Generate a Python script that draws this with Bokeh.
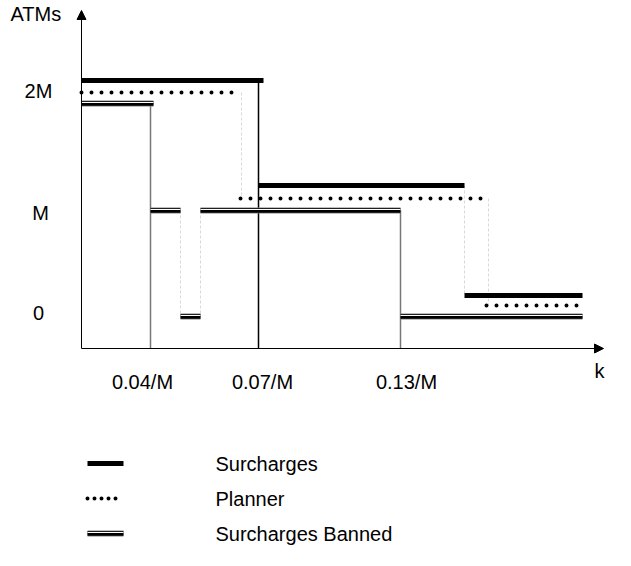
from bokeh.plotting import figure
from bokeh.models import Range1d, Arrow, NormalHead
from bokeh.core.properties import value
from bokeh.embed import file_html
from bokeh.resources import INLINE

# Schematic coordinates (chart units, origin of axes at x0, y0)
x0, y0 = 81, 348
x_end, y_top = 603, 10

# Step functions: start x, end x, level
surch_x0 = [81, 258, 464]
surch_x1 = [263, 464, 582]
surch_y = [80, 185, 295]

plan_x0 = [81, 240, 486]
plan_x1 = [235, 488, 582]
plan_y = [92, 198, 305]

ban_x0 = [81, 150, 180, 200, 400]
ban_x1 = [153, 180, 200, 400, 582]
ban_y = [103, 210, 316, 210, 316]

# Drop lines
drop_solid_x = [150, 258, 400]
drop_solid_ytop = [103, 80, 210]
drop_solid_col = ["#777777", "#000000", "#777777"]
drop_light_x = [241, 464, 488, 180, 200]
drop_light_y0 = [92, 185, 198, 210, 210]
drop_light_y1 = [198, 295, 305, 316, 316]

# Tick labels
xtick_labels = ["0.04/M", "0.07/M", "0.13/M"]
xtick_pos = [142, 262, 406]
ytick_labels = ["2M", "M", "0"]
ytick_pos = [90, 212, 312]

legend_labels = ["Surcharges", "Planner", "Surcharges Banned"]
legend_y = [463, 498, 533]

FONT = "Liberation Sans"
FS = "20px"

p = figure(width=631, height=566, output_backend="svg", toolbar_location=None,
           x_range=Range1d(0, 631), y_range=Range1d(566, 0), min_border=0)
p.axis.visible = False
p.grid.visible = False
p.outline_line_color = None
p.background_fill_color = "white"

# light dashed drop lines
p.segment(x0=drop_light_x, y0=drop_light_y0, x1=drop_light_x, y1=drop_light_y1,
          line_color="#d9d9d9", line_width=1, line_dash="3 2")
# solid drop lines
p.segment(x0=drop_solid_x, y0=drop_solid_ytop, x1=drop_solid_x, y1=[y0] * 3,
          line_color=drop_solid_col, line_width=1.5)

# axes
p.add_layout(Arrow(x_start=x0, y_start=y0, x_end=x0, y_end=y_top,
                   line_color="black", line_width=1,
                   end=NormalHead(size=9, fill_color="black", line_color="black")))
p.add_layout(Arrow(x_start=x0, y_start=y0, x_end=x_end, y_end=y0,
                   line_color="black", line_width=1,
                   end=NormalHead(size=9, fill_color="black", line_color="black")))

# Surcharges
p.segment(x0=surch_x0, y0=surch_y, x1=surch_x1, y1=surch_y, line_color="black", line_width=5)
# Planner
p.segment(x0=plan_x0, y0=plan_y, x1=plan_x1, y1=plan_y, line_color="black",
          line_width=4, line_dash="0 10", line_cap="round")
# Surcharges banned (double line)
p.segment(x0=ban_x0, y0=ban_y, x1=ban_x1, y1=ban_y, line_color="#808080", line_width=6)
p.segment(x0=ban_x0, y0=ban_y, x1=ban_x1, y1=ban_y, line_color="black", line_width=4.5)
p.segment(x0=ban_x0, y0=[v - 1 for v in ban_y], x1=ban_x1, y1=[v - 1 for v in ban_y],
          line_color="white", line_width=1)

# Legend lines
lx0, lx1 = 87, 123
p.segment(x0=[lx0], y0=[legend_y[0]], x1=[lx1], y1=[legend_y[0]], line_color="black", line_width=5)
p.segment(x0=[lx0], y0=[legend_y[1]], x1=[lx1 - 3], y1=[legend_y[1]], line_color="black",
          line_width=4, line_dash="0 7", line_cap="round")
p.segment(x0=[lx0], y0=[legend_y[2]], x1=[lx1], y1=[legend_y[2]], line_color="#808080", line_width=6)
p.segment(x0=[lx0], y0=[legend_y[2]], x1=[lx1], y1=[legend_y[2]], line_color="black", line_width=4.5)
p.segment(x0=[lx0], y0=[legend_y[2] - 1], x1=[lx1], y1=[legend_y[2] - 1], line_color="white", line_width=1)

# Texts
p.text(x=[215] * 3, y=legend_y, text=legend_labels, text_font=value(FONT), text_font_size=FS,
       text_align="left", text_baseline="middle", text_color="black")
p.text(x=xtick_pos, y=[381] * 3, text=xtick_labels, text_font=value(FONT), text_font_size=FS,
       text_align="center", text_baseline="middle", text_color="black")
p.text(x=[38, 40, 38], y=ytick_pos, text=ytick_labels, text_font=value(FONT), text_font_size=FS,
       text_align="center", text_baseline="middle", text_color="black")
p.text(x=[10], y=[13], text=["ATMs"], text_font=value(FONT), text_font_size=FS,
       text_align="left", text_baseline="middle", text_color="black")
p.text(x=[599], y=[370], text=["k"], text_font=value(FONT), text_font_size=FS,
       text_align="center", text_baseline="middle", text_color="black")

open("out.html", "w").write(file_html(p, INLINE))
